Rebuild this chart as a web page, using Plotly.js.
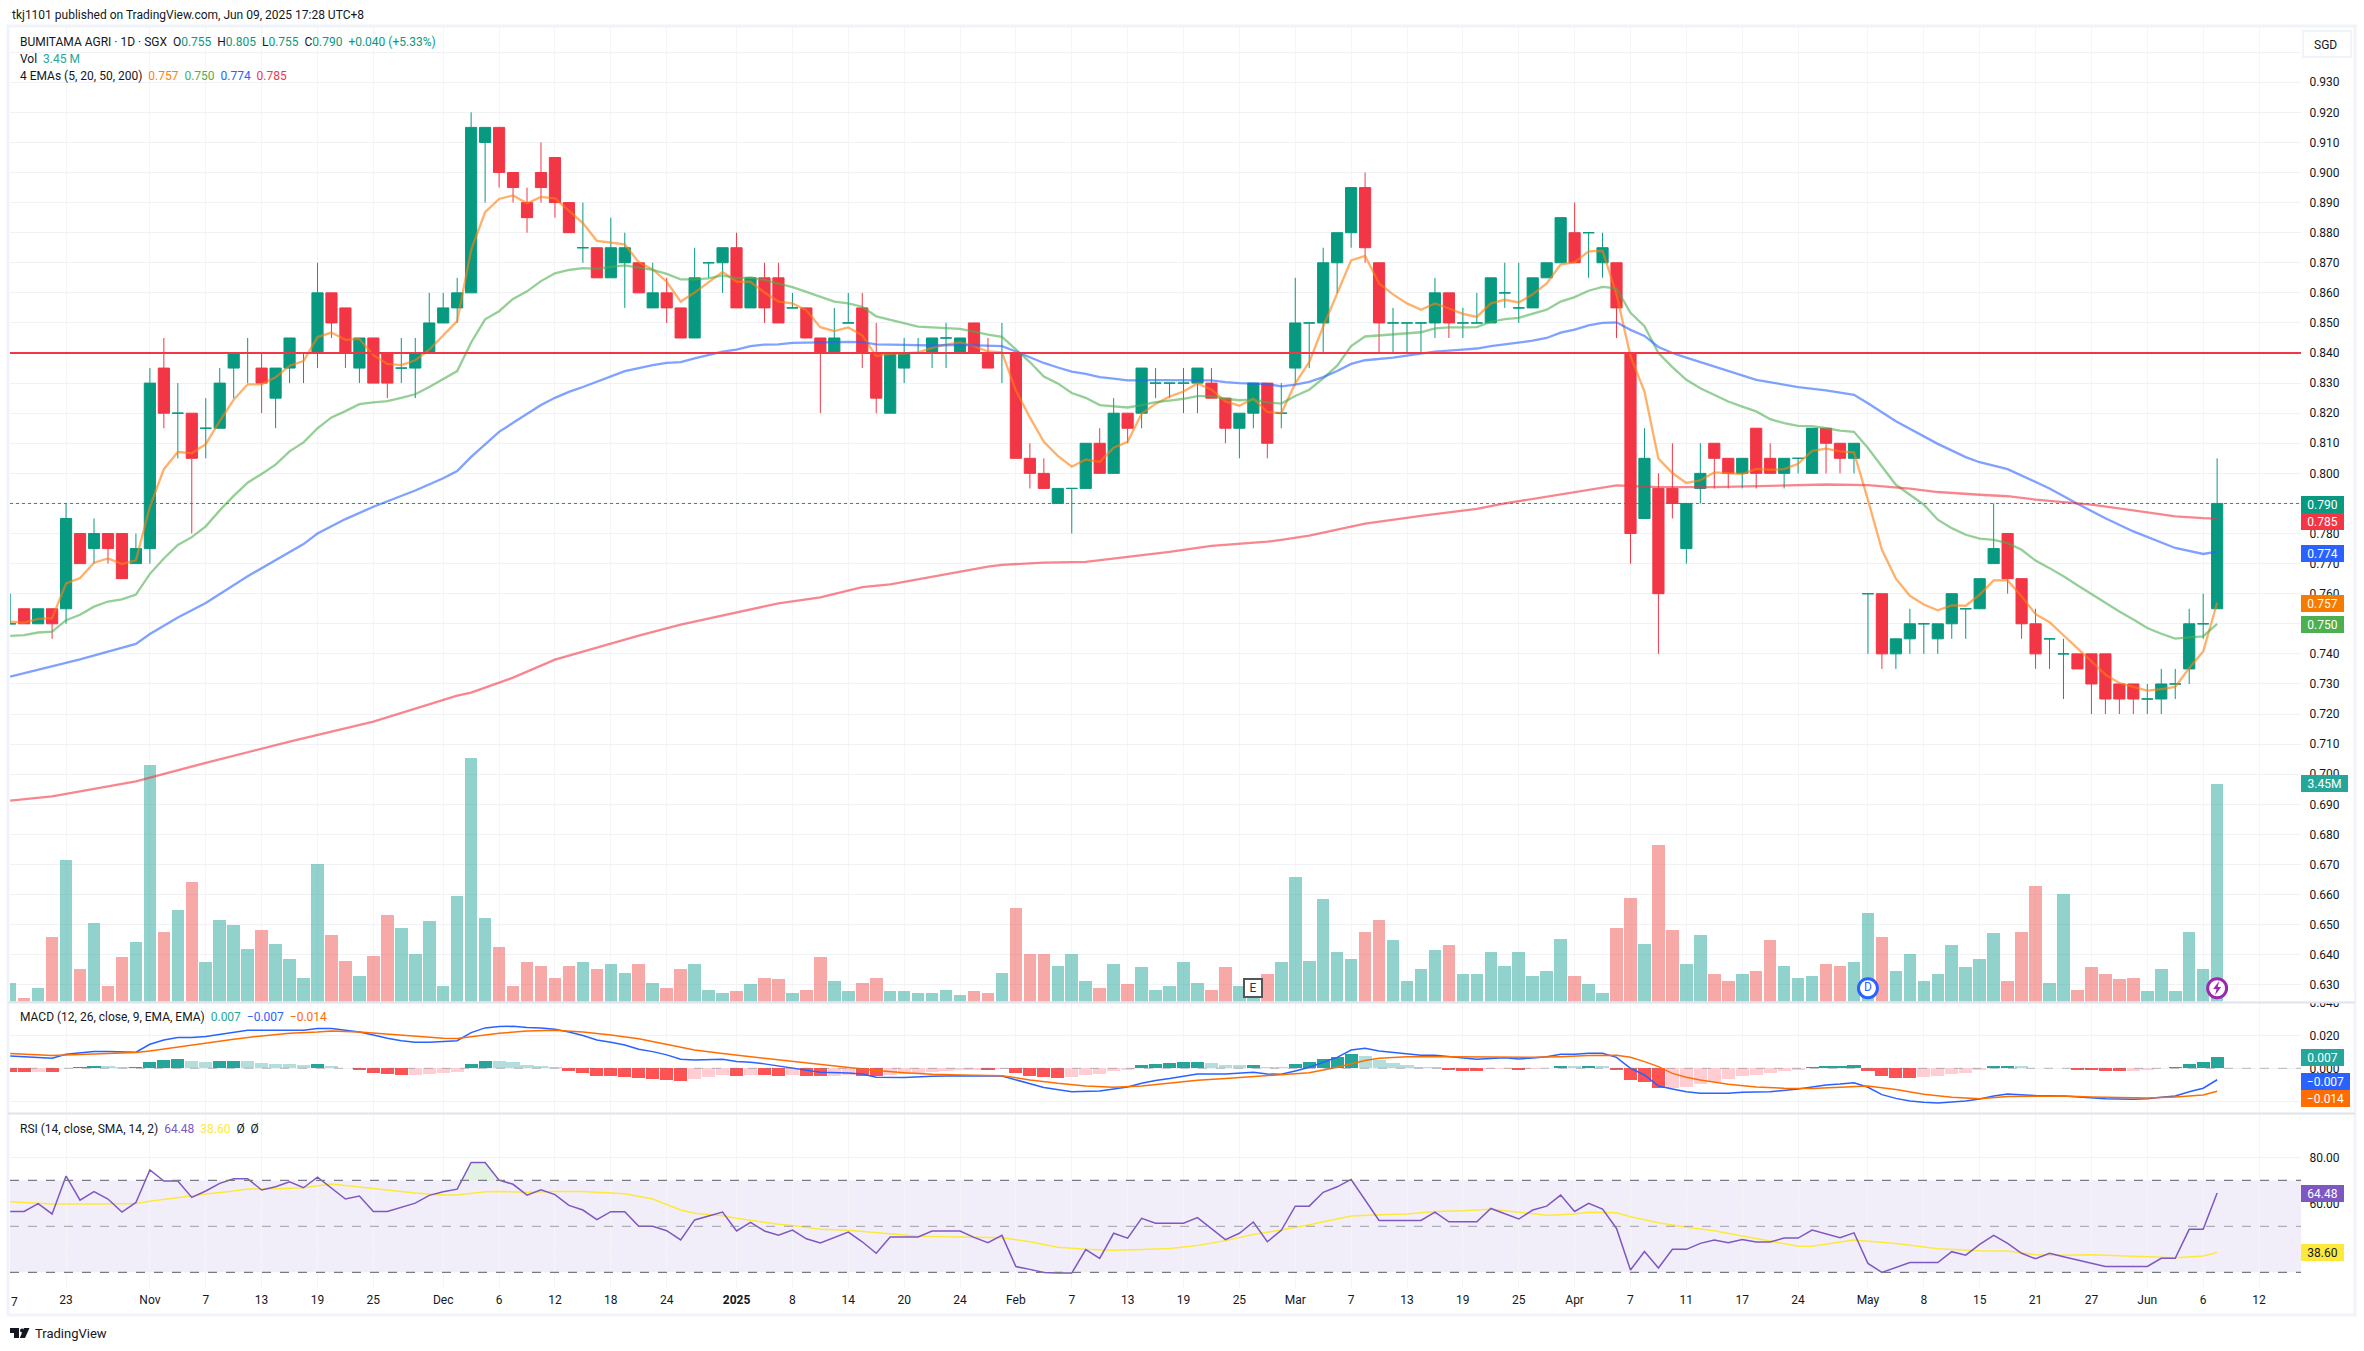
<!DOCTYPE html>
<html><head><meta charset="utf-8">
<script src="https://cdn.plot.ly/plotly-3.0.1.min.js"></script>
<style>html,body{margin:0;padding:0;background:#fff}#c{width:2364px;height:1351px}</style>
</head><body><div id="c"></div>
<script>
const openP=[.75,.755,.75,.755,.755,.78,.775,.78,.78,.77,.775,.835,.82,.82,.815,.815,.835,.84,.835,.825,.835,.84,.84,.86,.855,.835,.845,.84,.835,.835,.84,.85,.855,.86,.91,.915,.90,.89,.90,.905,.89,.875,.875,.865,.87,.87,.855,.86,.855,.845,.87,.87,.875,.855,.865,.865,.855,.855,.845,.84,.85,.855,.84,.82,.835,.84,.84,.845,.84,.85,.84,.84,.84,.805,.80,.79,.795,.795,.81,.80,.82,.82,.83,.83,.83,.83,.83,.825,.815,.82,.83,.82,.835,.85,.85,.87,.88,.895,.87,.85,.85,.85,.85,.86,.85,.85,.85,.86,.855,.855,.865,.87,.88,.88,.87,.87,.84,.785,.795,.795,.775,.795,.81,.805,.80,.815,.805,.80,.805,.80,.815,.81,.805,.76,.76,.74,.745,.75,.745,.75,.755,.755,.77,.78,.765,.75,.745,.74,.74,.74,.74,.73,.73,.725,.725,.73,.735,.75,.755];
const highP=[.76,.755,.755,.755,.79,.78,.785,.78,.78,.78,.835,.845,.83,.82,.825,.835,.84,.845,.84,.835,.845,.84,.87,.86,.855,.845,.845,.84,.845,.845,.86,.86,.865,.92,.915,.915,.90,.895,.91,.905,.89,.89,.875,.885,.88,.87,.87,.865,.855,.875,.87,.875,.88,.865,.87,.87,.86,.855,.845,.855,.86,.86,.85,.84,.845,.845,.845,.85,.845,.85,.845,.85,.84,.81,.805,.795,.795,.81,.815,.825,.82,.835,.835,.83,.835,.835,.835,.825,.82,.83,.83,.83,.865,.85,.875,.88,.895,.90,.87,.855,.85,.85,.865,.86,.855,.86,.865,.87,.87,.865,.87,.885,.89,.88,.88,.87,.84,.815,.80,.81,.79,.81,.81,.805,.805,.815,.81,.805,.805,.815,.815,.81,.81,.76,.76,.745,.755,.75,.75,.76,.755,.765,.79,.78,.765,.755,.745,.745,.74,.74,.74,.73,.73,.73,.735,.735,.755,.76,.805];
const lowP=[.75,.75,.75,.745,.75,.77,.77,.77,.765,.77,.77,.815,.805,.78,.805,.815,.825,.83,.82,.815,.83,.83,.835,.845,.835,.83,.83,.825,.83,.825,.84,.85,.85,.86,.89,.895,.89,.88,.89,.885,.88,.87,.865,.865,.855,.86,.855,.85,.845,.845,.865,.86,.855,.855,.85,.85,.855,.845,.82,.84,.85,.835,.82,.82,.83,.84,.835,.835,.84,.84,.835,.83,.805,.795,.795,.79,.78,.795,.80,.80,.81,.815,.825,.825,.82,.82,.825,.81,.805,.815,.805,.815,.83,.835,.84,.86,.875,.87,.84,.84,.84,.84,.845,.845,.845,.85,.85,.855,.85,.855,.865,.87,.87,.865,.865,.845,.77,.785,.74,.785,.77,.79,.795,.795,.795,.795,.80,.795,.80,.80,.80,.80,.80,.74,.735,.735,.74,.74,.74,.745,.745,.755,.77,.76,.745,.735,.735,.725,.735,.72,.72,.72,.72,.72,.72,.725,.73,.745,.755];
const closeP=[.75,.75,.755,.75,.785,.77,.78,.775,.765,.775,.83,.82,.82,.805,.815,.83,.84,.84,.83,.835,.845,.84,.86,.85,.84,.845,.83,.83,.835,.84,.85,.855,.86,.915,.915,.90,.895,.885,.895,.89,.88,.875,.865,.875,.875,.86,.86,.855,.845,.865,.87,.875,.855,.865,.855,.85,.855,.845,.84,.845,.85,.84,.825,.84,.84,.84,.845,.845,.845,.84,.835,.84,.805,.80,.795,.795,.795,.81,.80,.82,.815,.835,.83,.83,.83,.835,.825,.815,.82,.83,.81,.82,.85,.85,.87,.88,.895,.875,.85,.85,.85,.85,.86,.85,.85,.85,.865,.86,.855,.865,.87,.885,.87,.88,.875,.855,.78,.805,.76,.79,.79,.80,.805,.80,.805,.80,.80,.805,.805,.815,.81,.805,.81,.76,.74,.745,.75,.75,.75,.76,.755,.765,.775,.765,.75,.74,.745,.74,.735,.73,.725,.725,.725,.725,.73,.73,.75,.75,.79];
const volumeM=[.30,.06,.21,1.03,2.25,.51,1.25,.24,.71,.95,3.76,1.11,1.46,1.90,.62,1.30,1.22,.84,1.13,.92,.67,.37,2.19,1.06,.65,.41,.73,1.38,1.16,.76,1.27,.24,1.67,3.86,1.33,.87,.25,.62,.57,.37,.57,.62,.51,.59,.46,.59,.29,.21,.52,.59,.19,.13,.17,.27,.37,.35,.14,.19,.71,.32,.17,.30,.38,.16,.17,.13,.14,.19,.11,.17,.14,.46,1.49,.76,.75,.57,.76,.33,.21,.60,.27,.54,.19,.25,.62,.30,.19,.54,.25,.20,.43,.63,1.98,.65,1.63,.78,.68,1.10,1.29,.98,.32,.52,.81,.90,.43,.43,.78,.57,.78,.41,.48,1.00,.40,.27,.13,1.16,1.65,.92,2.48,1.13,.60,1.06,.43,.32,.43,.48,.97,.57,.37,.40,.60,.57,.63,1.41,1.03,.49,.75,.33,.43,.89,.54,.68,1.08,.33,1.11,1.84,.30,1.70,.19,.54,.44,.35,.38,.17,.52,.16,1.10,.51,3.45];
const ema5=[.7507,.7504,.7516,.7519,.7634,.7652,.7703,.7717,.7699,.7711,.7889,.8014,.8071,.8067,.8097,.8174,.8245,.8296,.8296,.8319,.8358,.8373,.8453,.8468,.8444,.8447,.8393,.8364,.836,.8376,.8411,.8459,.8506,.8743,.8868,.8912,.8924,.8898,.8919,.8914,.8874,.8832,.8773,.8767,.8761,.8702,.8678,.8637,.8571,.8601,.8637,.867,.8637,.8637,.8601,.8571,.8565,.8542,.8486,.8473,.8485,.8459,.839,.8397,.8399,.8402,.8417,.8429,.8435,.8423,.8405,.8402,.8275,.8186,.8105,.8058,.8022,.8046,.8038,.8085,.8105,.8198,.8231,.8255,.8272,.8299,.8278,.8239,.8225,.8248,.8204,.82,.8299,.837,.8488,.8595,.8708,.8723,.8631,.8595,.8565,.8544,.8565,.8548,.853,.852,.8565,.8577,.8568,.8595,.8631,.8694,.8702,.8738,.874,.8595,.839,.8272,.8049,.8001,.7968,.7977,.8003,.8001,.7998,.8015,.8012,.8014,.8032,.8075,.8082,.8073,.807,.7912,.7746,.765,.7593,.7564,.7545,.7561,.756,.7597,.7644,.7645,.7591,.7532,.7505,.7462,.742,.7375,.7331,.7303,.729,.7278,.7283,.729,.7353,.7408,.757];
const ema20=[.746,.7462,.7471,.7474,.7512,.753,.7557,.7574,.7581,.7597,.7666,.7717,.7762,.7788,.7824,.7877,.7925,.7969,.7998,.8029,.8073,.8103,.815,.8186,.8207,.823,.8236,.824,.8251,.8263,.8287,.8314,.834,.8435,.8512,.8539,.858,.8605,.8639,.8665,.8676,.8682,.868,.8686,.8691,.8684,.8676,.8663,.8645,.8645,.8648,.8658,.8648,.8651,.8643,.8631,.8619,.8603,.8586,.8571,.8565,.8554,.8522,.851,.8498,.8488,.8485,.8482,.848,.8471,.8461,.8454,.8411,.837,.8322,.8299,.8267,.8251,.8227,.8224,.8219,.8227,.8237,.8242,.8248,.8257,.8257,.8248,.8243,.8245,.8236,.8232,.8257,.8278,.8316,.8358,.8423,.8455,.8459,.8462,.8466,.8469,.8482,.8485,.8485,.8486,.8504,.8513,.8517,.853,.8544,.8571,.8586,.8607,.862,.8615,.8534,.8489,.84,.8353,.8311,.8283,.8261,.8239,.8222,.8206,.818,.8167,.8158,.8157,.815,.8142,.8138,.8084,.8023,.7962,.7929,.7896,.7846,.7818,.7796,.7783,.7779,.7768,.7746,.771,.7685,.7658,.7628,.7599,.7569,.7541,.7514,.7486,.7467,.7451,.7455,.7458,.75];
const ema50Bar=[0,5,9,10,12,14,17,19,21,22,24,26,27,29,31,32,33,34,35,36,37,38,39,40,41,42,43,44,45,46,47,48,49,50,51,52,53,54,55,56,57,59,60,61,62,64,66,68,70,71,72,73,74,75,76,77,78,79,80,82,84,86,87,88,90,91,92,93,94,95,96,97,99,101,102,104,105,106,107,108,109,110,111,112,113,114,115,116,117,118,119,120,125,128,130,132,133,135,138,140,141,143,145,146,148,150,152,154,155,157,158];
const ema50=[.7324,.7382,.7433,.7466,.7521,.7569,.7658,.7711,.7765,.78,.7848,.7889,.7907,.7943,.7984,.8008,.8055,.8097,.8138,.8168,.8198,.8227,.8251,.8271,.8287,.8304,.8322,.834,.835,.836,.8367,.837,.8382,.8393,.8405,.8411,.8423,.8428,.8429,.8434,.8435,.8435,.8437,.8436,.8429,.8427,.8425,.8427,.8424,.8423,.8405,.8387,.8367,.8352,.8338,.8331,.832,.8315,.8309,.831,.831,.8309,.8303,.83,.8297,.8289,.8295,.8304,.832,.834,.8364,.8376,.8385,.8397,.8405,.8411,.8415,.8423,.8429,.8434,.8441,.845,.8468,.8478,.8492,.85,.8502,.8477,.8457,.842,.84,.8385,.8311,.8287,.8276,.8261,.8233,.8173,.8098,.8054,.8037,.8014,.797,.795,.7899,.7851,.7807,.7771,.7752,.7732,.774];
const ema200Bar=[0,3,9,14,20,26,32,33,36,39,42,45,48,51,54,55,58,61,63,66,70,71,74,77,80,83,86,90,91,93,95,97,101,105,107,110,112,115,118,122,130,133,136,138,141,143,145,149,152,155,157,158];
const ema200=[.6912,.6926,.6976,.7038,.7108,.7175,.7261,.7271,.7321,.7381,.7421,.7461,.7497,.7527,.7557,.7568,.7588,.7622,.7631,.7657,.769,.7696,.7703,.7706,.7723,.7739,.7759,.7773,.7779,.7793,.7813,.7833,.7859,.7882,.79,.7922,.7939,.796,.7954,.7954,.7963,.7961,.7949,.7938,.7929,.7924,.7913,.7896,.7877,.7857,.7851,.785];
const macdHistMilli=[-2.2,-2.2,-2.2,-2.2,.2,.8,1.4,1.4,.8,.8,3.9,5.1,5.7,4.5,3.9,4.5,4.5,4.5,3.3,2.7,2.7,2,2.7,1.4,.2,-1,-2.9,-3.5,-4.1,-3.9,-3.5,-2.9,-2.2,2.9,4.5,4.5,3.9,2,1.4,.8,-1.6,-2.9,-4.7,-4.7,-5.3,-5.9,-6.5,-7.1,-7.8,-6.5,-5.3,-4.1,-4.7,-4.1,-4.1,-4.7,-4.1,-4.7,-4.7,-4.7,-4.1,-4.7,-4.7,-4.1,-3.5,-3.5,-2.2,-1.6,-1,-1,-1,-.6,-2.9,-4.7,-5.3,-5.9,-5.3,-4.1,-3.5,-1.6,-1,2,2.7,3.3,3.9,3.9,3.3,2,2,2,.8,.8,2.7,3.9,5.5,6.9,8.8,7.5,5.1,3.3,2,.8,.8,-1,-1.6,-1.6,-.6,-.6,-1,-.6,.4,1.6,1.6,1.6,1.6,-1,-7.1,-8.2,-12,-12,-11.4,-9.6,-8.2,-6.5,-4.7,-4.1,-2.9,-1.6,-1,1,1.6,1.6,2.2,-1.6,-4.7,-5.9,-5.9,-5.3,-4.7,-3.5,-2.9,-1,1.6,1.6,1.6,.4,.4,.4,-1,-1,-1.6,-1.6,-1.6,-1,.4,.8,2.7,3.9,6.9];
const macdHistStrong=("1101111001"+"1110011000"+"0010011110"+"0001100000"+"1111111110"+"0010110110"+"0110000000"+"1011110000"+"0111110001"+"0011111000"+"0001110010"+"1101011110"+"0000000001"+"1111111000"+"0011000011"+"110011111").split("");
const macdBar=[0,1,2,3,4,5,6,7,8,9,10,11,12,13,14,15,16,17,18,19,20,21,22,23,24,25,26,27,28,29,30,31,32,33,34,35,36,37,38,39,40,41,42,43,44,45,46,47,48,49,50,51,52,53,54,55,56,58,60,61,62,64,66,68,71,72,73,74,76,78,79,80,81,82,83,84,85,87,89,90,91,92,93,94,95,96,97,98,99,100,101,102,103,105,107,108,109,110,111,112,113,114,115,116,117,118,119,120,121,123,124,126,128,129,130,131,132,133,134,135,136,137,138,139,140,141,142,143,144,145,147,149,150,152,153,154,155,156,157,158];
const macdMilli=[7.5,7.1,6.9,6.1,8.6,9.2,10.2,10.2,9.8,9.8,14.7,17.3,18.8,18.8,19.4,20.8,22.2,23.3,23.3,23.1,23.3,23.3,24.3,24.3,23.1,22.2,20.4,18.4,16.9,15.9,15.9,16.3,16.9,21.8,24.7,25.5,25.7,24.9,24.7,23.9,22.2,20,17.3,15.9,14.3,11.6,10.2,8.2,5.5,5.1,5.1,5.5,4.1,3.7,2.7,1.4,.2,-2.4,-2.9,-3.5,-5.5,-5.7,-4.9,-4.5,-4.7,-7.1,-9.8,-11.8,-14.3,-13.9,-12.6,-11.4,-9.2,-7.5,-6.3,-4.9,-3.5,-3.5,-2.4,-3.5,-3.7,-1.6,.6,3.7,6.7,11.2,12.2,10.6,9.8,8.8,8,8,7.1,5.5,6.5,5.7,6.3,7.1,8.6,8.6,9.2,9.2,6.7,0,-4.1,-10.8,-12.6,-14.3,-15.3,-15.3,-14.7,-14.3,-12.6,-11.2,-10.2,-9.6,-8.8,-11.6,-16.1,-18.4,-20,-20.8,-21.2,-20.6,-20,-18.8,-16.9,-15.7,-16.1,-16.7,-16.9,-18,-18.6,-19,-18.6,-17.7,-16.9,-14.3,-12.2,-7];
const signalBar=[0,2,3,4,6,8,9,10,12,14,16,18,20,22,23,25,27,29,31,32,33,35,37,39,41,43,45,47,49,51,53,55,56,58,60,62,64,66,68,71,73,75,77,79,81,83,85,87,89,91,93,95,96,97,98,100,103,106,109,111,113,115,116,117,118,119,120,121,123,125,127,129,131,133,135,137,139,141,143,145,147,149,151,153,155,157,158];
const signalMilli=[9,8.2,7.8,8.2,8.8,9.4,9.6,10.6,13.1,15.3,17.7,19.8,21.4,22.2,22.8,22.2,20.8,19.4,18.4,18.2,19.4,21.4,22.8,23.3,22.2,20.4,18,14.7,11.2,9,7.1,5.1,4.5,2.2,.4,-1.4,-2.7,-3.7,-4.1,-4.5,-7.1,-9.2,-10.8,-11.6,-10.8,-9.2,-7.3,-6.3,-5.1,-4.3,-2.7,.6,2.7,4.7,6.1,7.1,7.1,6.7,6.7,7.1,7.8,8,6.7,4.1,1,-3.1,-5.5,-7.1,-9.8,-11.4,-12.2,-12.4,-11.6,-10.8,-12.9,-15.9,-17.7,-18.6,-17.3,-16.9,-16.9,-17.5,-18,-18.2,-17.5,-16.3,-14];
const rsi=[56.5,56.5,59.9,55.4,71.9,61.4,65.1,61.9,56.2,60.4,74.5,69.7,69.7,62.6,65.4,68.7,70.7,70.7,65.8,67.2,69.4,66.8,71.4,66.5,61.9,63.2,56.5,56.5,58.4,60.1,63.5,65.1,66.2,77.8,77.8,70.1,68.3,63.6,65.9,63.8,59.1,57.1,52.9,56.4,56.4,50,50,48.1,44.1,52.8,54.5,56.2,48,51.7,48,46.2,48.4,44.6,42.8,45.1,47.5,43.3,38.3,45.4,45.4,45.4,48,48,48,45.2,42.9,46.1,32.5,31.3,29.9,29.7,29.7,39.9,36.1,47,44.9,53.5,51.4,51.4,51.4,53.8,49,44.2,47,51.9,43.3,48.3,58.8,58.8,64.8,67.2,70.4,61.4,52.6,52.6,52.6,52.6,56.2,52,52,52,57.8,55.4,53.2,57.1,58.8,63.6,56.5,60,57.5,49.1,31,39.1,31.9,40,40,42.6,44.1,42.9,44.3,43.2,43.2,44.9,44.9,48.4,46.7,45.1,47.2,33.9,30,32.2,34.3,34.3,34.3,39,37.5,42.2,46.1,42.6,38.3,35.9,38.3,36.8,35.4,33.9,32.6,32.6,32.6,32.6,36.1,36.1,48.7,48.7,64.48];
const rsiMaBar=[0,1,3,6,9,10,12,14,16,17,19,21,23,25,27,29,31,32,34,35,37,39,41,43,44,46,47,48,49,51,52,54,55,56,58,60,62,64,65,68,71,73,75,77,79,81,83,85,87,89,91,93,95,96,98,100,102,104,106,108,110,111,112,113,115,116,118,120,122,124,126,128,129,131,132,135,138,141,143,145,147,149,152,154,155,157,158];
const rsiMa=[60.7,60.4,59.7,59.7,60,60.9,62.6,64.1,65.4,66.2,66.4,66.8,68.4,67.1,65.7,64.5,63.6,63.6,65.1,65.2,64.8,65.2,65.2,64.6,64.2,61.9,59.6,57.1,55.7,54.6,53.5,51.7,50.9,50.4,48.7,48.3,47.4,46.2,45.7,45.5,45.1,43.3,40.9,40,39.6,39.9,40.4,41.7,43.8,46.5,48.4,50.7,53.2,54.5,55.1,55.4,56.5,56.8,57.5,56.2,54.8,55.1,55.4,56.1,55.9,54.2,51.6,49.6,48.1,45.8,43.5,41.4,41.4,43.3,44.1,42.5,40.3,39.4,39.3,37.7,37.4,37.7,37.2,36.8,36.4,37.1,38.6];
const tickBars=[0,4,10,14,18,22,26,31,35,39,43,47,52,56,60,64,68,72,76,80,84,88,92,96,100,104,108,112,116,120,124,128,133,137,141,145,149,153,157,161];
const tickLabels=['','23','Nov','7','13','19','25','Dec','6','12','18','24','<b>2025</b>','8','14','20','24','Feb','7','13','19','25','Mar','7','13','19','25','Apr','7','11','17','24','May','8','15','21','27','Jun','6','12'];
const priceTicks=[.63,.64,.65,.66,.67,.68,.69,.70,.71,.72,.73,.74,.75,.76,.77,.78,.79,.80,.81,.82,.83,.84,.85,.86,.87,.88,.89,.90,.91,.92,.93];
const macdTicks=[-.02,0,.02,.04];
const rsiTicks=[40,60,80];
const levelLine=.84;

const W=2364,H=1351,FONT='Roboto, sans-serif',INK='#131722';
const PLOT_L=10,PLOT_R=2301,BAR0=10.2,STEP=13.968;
const px=x=>x/W, py=y=>1-y/H;
const bars=closeP.map((_,i)=>i);
const xRange=[(PLOT_L-BAR0)/STEP,(PLOT_R-BAR0)/STEP];
const milli=a=>a.map(v=>v/1000);
const upIdx=bars.filter(i=>closeP[i]>=openP[i]), dnIdx=bars.filter(i=>closeP[i]<openP[i]);
const pick=(a,idx)=>idx.map(i=>a[i]);
const macdH=milli(macdHistMilli);
const histColor=macdH.map((v,i)=>v>=0?(macdHistStrong[i]==='1'?'#26A69A':'#B2DFDB'):(macdHistStrong[i]==='1'?'#FF5252':'#FFCDD2'));
const obPolyX=[32+(70-rsi[32])/(rsi[33]-rsi[32]),33,34,35];
const obPolyY=[70,rsi[33],rsi[34],70];
const line=(x,y,color,width,xa,ya,opacity)=>({type:'scatter',mode:'lines',x,y,xaxis:xa,yaxis:ya,opacity:opacity===undefined?1:opacity,line:{color,width},hoverinfo:'skip',showlegend:false});
const candle=(idx,color)=>({type:'candlestick',x:idx,open:pick(openP,idx),high:pick(highP,idx),low:pick(lowP,idx),close:pick(closeP,idx),xaxis:'x',yaxis:'y2',whiskerwidth:0,increasing:{line:{color,width:1},fillcolor:color},decreasing:{line:{color,width:1},fillcolor:color},hoverinfo:'skip',showlegend:false});
const lastBar=bars.length-1;
const traces=[
 {type:'bar',x:bars,y:volumeM,xaxis:'x',yaxis:'y',width:.9,marker:{color:bars.map(i=>closeP[i]>=openP[i]?'#26A69A':'#EF5350'),opacity:.5,line:{width:0}},hoverinfo:'skip',showlegend:false},
 line(bars,ema5,'#FF7F0E',2.3,'x','y2',.62),
 line(bars,ema20,'#4CAF50',2.3,'x','y2',.6),
 line(ema50Bar,ema50,'#2962FF',2.3,'x','y2',.6),
 line(ema200Bar,ema200,'#F23645',2.3,'x','y2',.6),
 candle(upIdx,'#089981'),candle(dnIdx,'#F23645'),
 {type:'bar',x:bars,y:macdH,xaxis:'x2',yaxis:'y3',width:.94,marker:{color:histColor,line:{width:0}},hoverinfo:'skip',showlegend:false},
 line(macdBar,milli(macdMilli),'#2962FF',1.5,'x2','y3'),
 line(signalBar,milli(signalMilli),'#FF6D00',1.5,'x2','y3'),
 {type:'scatter',mode:'none',x:obPolyX.concat([obPolyX[0]]),y:obPolyY.concat([obPolyY[0]]),xaxis:'x3',yaxis:'y4',fill:'toself',fillcolor:'rgba(76,175,80,.16)',hoverinfo:'skip',showlegend:false},
 line(rsiMaBar,rsiMa,'#FDE93C',1.5,'x3','y4'),
 line(bars,rsi,'#7E57C2',1.5,'x3','y4'),
 {type:'scatter',mode:'markers+text',x:[133],y:[.21],xaxis:'x',yaxis:'y',marker:{size:19,color:'#fff',line:{color:'#2962FF',width:3}},text:['D'],textposition:'middle center',textfont:{family:FONT,size:12,color:'#2962FF'},cliponaxis:false,hoverinfo:'skip',showlegend:false},
 {type:'scatter',mode:'markers',x:[lastBar],y:[.21],xaxis:'x',yaxis:'y',marker:{size:19,color:'#fff',line:{color:'#9C27B0',width:3}},cliponaxis:false,hoverinfo:'skip',showlegend:false}
];
const gridX='#f4f5f7',gridY='#f0f2f5';
const xBase=(labels)=>({domain:[px(PLOT_L),px(PLOT_R)],range:xRange,rangeslider:{visible:false},tickmode:'array',tickvals:tickBars,ticktext:tickBars.map((_,i)=>labels?tickLabels[i]:''),showgrid:true,gridcolor:gridX,gridwidth:1,zeroline:false,showline:false,ticks:labels?'outside':'',ticklen:labels?1:0,tickcolor:'rgba(0,0,0,0)',tickfont:{family:FONT,size:12,color:INK},fixedrange:true});
const yBase=(top,bot,range,vals,text,anchor)=>({domain:[py(bot),py(top)],range,side:'right',anchor,tickmode:'array',tickvals:vals,ticktext:text,showgrid:true,gridcolor:gridY,gridwidth:1,zeroline:false,showline:false,ticks:'outside',ticklen:5,tickcolor:'rgba(0,0,0,0)',tickfont:{family:FONT,size:12,color:INK},fixedrange:true});
const note=(x,y,text,size,color,extra)=>Object.assign({xref:'paper',yref:'paper',x:px(x),y:py(y),text,showarrow:false,xanchor:'left',yanchor:'middle',font:{family:FONT,size,color:color||INK},align:'left'},extra||{});
const box=(y,text,bg,w,fg)=>note(PLOT_R,y,text,12,fg||'#fff',{bgcolor:bg,width:w,height:17,align:'center',borderpad:0,borderwidth:0,xanchor:'left'});
const c=(col,t)=>`<span style="color:${col}">${t}</span>`;
const G='#089981',NB='\u00A0';
const annotations=[
 note(10,15,'tkj1101 published on TradingView.com, Jun 09, 2025 17:28 UTC+8',12,INK),
 note(18,41.5,`BUMITAMA AGRI · 1D · SGX${NB}${NB}O${c(G,'0.755')}${NB}${NB}H${c(G,'0.805')}${NB}${NB}L${c(G,'0.755')}${NB}${NB}C${c(G,'0.790')}${NB}${NB}${c(G,'+0.040 (+5.33%)')}`,12,INK),
 note(18,59,`Vol${NB}${NB}${c('#26A69A','3.45'+NB+'M')}`,12,INK),
 note(18,75.5,`4 EMAs (5, 20, 50, 200)${NB}${NB}${c('#FF7F0E','0.757')}${NB}${NB}${c('#4CAF50','0.750')}${NB}${NB}${c('#2962FF','0.774')}${NB}${NB}${c('#F23645','0.785')}`,12,INK),
 note(18,1016.7,`MACD (12, 26, close, 9, EMA, EMA)${NB}${NB}${c('#26A69A','0.007')}${NB}${NB}${c('#2962FF','\u22120.007')}${NB}${NB}${c('#FF6D00','\u22120.014')}`,12,INK),
 note(18,1129,`RSI (14, close, SMA, 14, 2)${NB}${NB}${c('#7E57C2','64.48')}${NB}${NB}${c('#FDE93C','38.60')}${NB}${NB}Ø${NB}${NB}Ø`,12,INK),
 note(33,1333,'TradingView',13,INK),
 note(9.5,1302,'7',12,INK),
 note(2312,45,'SGD',12,INK),
 box(504.3,'0.790',G,43),box(521.7,'0.785','#F23645',43),box(553.3,'0.774','#2962FF',43),
 box(603.3,'0.757','#F57C00',43),box(624.3,'0.750','#4CAF50',43),box(784,'3.45M','#26A69A',47),
 box(1057.3,'0.007','#26A69A',43),box(1081.7,'\u22120.007','#2962FF',49),box(1098.3,'\u22120.014','#FF6D00',49),
 box(1193.7,'64.48','#7E57C2',43),box(1252.3,'38.60','#FDE93C',43,INK),
 {xref:'x',yref:'paper',x:89,y:py(988),text:'E',showarrow:false,xanchor:'center',yanchor:'middle',font:{family:FONT,size:12,color:'#333'},bgcolor:'#fff',bordercolor:'#555',borderwidth:2,borderpad:0,width:16,height:16}
];
const pRect=(x0,y0,x1,y1,fill,lineColor,lw,layer)=>({type:'rect',xref:'paper',yref:'paper',x0:px(x0),x1:px(x1),y0:py(y0),y1:py(y1),fillcolor:fill,line:{color:lineColor||'rgba(0,0,0,0)',width:lw||0},layer:layer||'below'});
const hLine=(ya,v,color,w,dash)=>({type:'line',xref:'paper',x0:px(PLOT_L),x1:px(PLOT_R),yref:ya,y0:v,y1:v,line:{color,width:w,dash:dash||'solid'},layer:'above'});
const pPath=(pts,fill)=>({type:'path',xref:'paper',yref:'paper',path:'M'+pts.map(p=>px(p[0])+','+py(p[1])).join('L')+'Z',fillcolor:fill,line:{width:0},layer:'above'});
const boltX=BAR0+STEP*lastBar, boltY=988;
const shapes=[
 pRect(8,26,2355,1315,'rgba(0,0,0,0)','#f0f3fa',3,'below'),
 pRect(2303,31,2351,57,'#fff','#f0f3fa',2,'above'),
 pRect(2302,992,2354,1002,'#fff',null,0,'above'),
 pRect(8,1001.6,2355,1003.4,'#e0e3eb',null,0,'above'),
 pRect(8,1112.6,2355,1114.4,'#e0e3eb',null,0,'above'),
 {type:'rect',xref:'paper',x0:px(PLOT_L),x1:px(PLOT_R),yref:'y4',y0:30,y1:70,fillcolor:'rgba(126,87,194,.1)',line:{width:0},layer:'below'},
 hLine('y4',70,'#787B86',1.2,'dash'),hLine('y4',50,'rgba(120,123,134,.55)',1.2,'dash'),hLine('y4',30,'#787B86',1.2,'dash'),
 hLine('y3',0,'rgba(120,123,134,.5)',1,'dash'),
 hLine('y2',levelLine,'#F23645',2),
 hLine('y2',closeP[lastBar],'#089981',1,'dot'),
 pPath([[boltX+2,boltY-7],[boltX-4,boltY+1],[boltX-.6,boltY+1],[boltX-2,boltY+7],[boltX+4,boltY-1],[boltX+.6,boltY-1]],'#9C27B0'),
 pPath([[10,1328],[19,1328],[19,1338],[14,1338],[14,1333],[10,1333]],'#131722'),
 pPath([[24,1328],[29.5,1328],[25,1338],[19.8,1338]],'#131722'),
 {type:'circle',xref:'paper',yref:'paper',x0:px(20),x1:px(24),y0:py(1332.5),y1:py(1328.5),fillcolor:'#131722',line:{width:0},layer:'above'}
];
const layout={width:W,height:H,margin:{l:0,r:0,t:0,b:0},autosize:false,paper_bgcolor:'#fff',plot_bgcolor:'rgba(0,0,0,0)',showlegend:false,boxmode:'overlay',boxgap:.2,boxgroupgap:0,bargap:0,barmode:'overlay',hovermode:false,dragmode:false,
 xaxis:Object.assign(xBase(false),{anchor:'y'}),
 xaxis2:Object.assign(xBase(false),{anchor:'y3'}),
 xaxis3:Object.assign(xBase(true),{anchor:'y4'}),
 yaxis:{domain:[py(1001.5),py(27)],range:[0,974.5/63],anchor:'x',side:'left',visible:false,showgrid:false,zeroline:false,fixedrange:true},
 yaxis2:Object.assign(yBase(27,1002,[.62445,.94837],priceTicks.concat([.94]),priceTicks.map(v=>v.toFixed(3)).concat(['']),'x'),{overlaying:'y'}),
 yaxis3:yBase(1002.5,1113,[-.02734,.04024],macdTicks,macdTicks.map(v=>v.toFixed(3).replace('-','\u2212')),'x2'),
 yaxis4:yBase(1114.5,1288,[23.2,98.65],rsiTicks,rsiTicks.map(v=>v.toFixed(2)),'x3'),
 annotations,shapes};
Plotly.newPlot('c',traces,layout,{staticPlot:true,displayModeBar:false});
</script></body></html>
